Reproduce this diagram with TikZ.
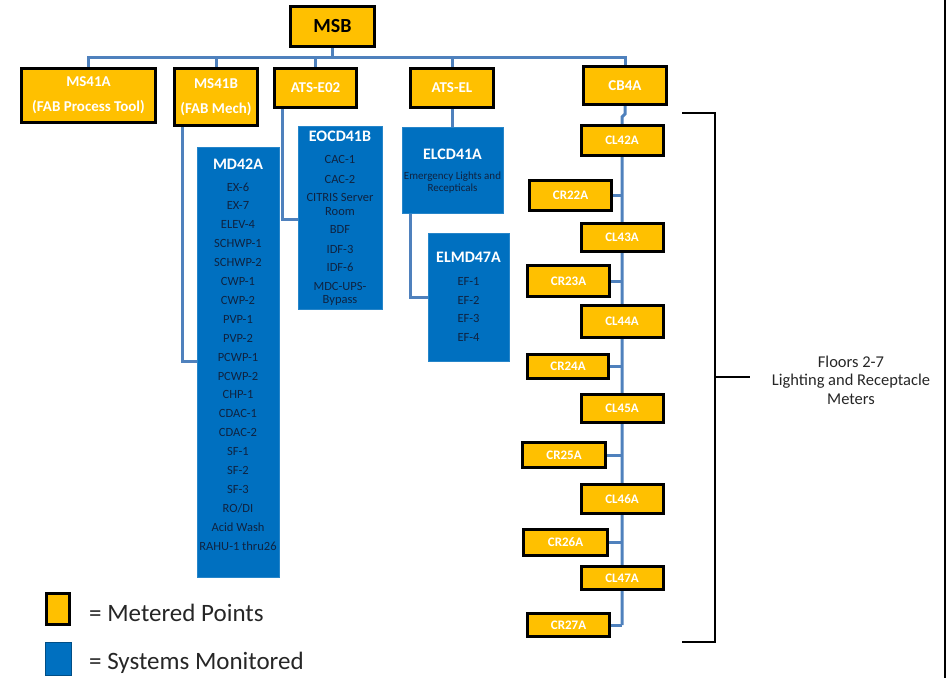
\documentclass[tikz,border=0pt]{standalone}
\usepackage{fontspec}
\setmainfont{Carlito}
\usetikzlibrary{backgrounds}
\definecolor{myyellow}{HTML}{FFC000}
\definecolor{myblue}{HTML}{0070C0}
\definecolor{myline}{HTML}{4F81BD}
\definecolor{mynavy}{HTML}{0F2341}
\tikzset{
  ybox/.style={rectangle, fill=myyellow, draw=black, line width=3pt, inner sep=0pt, text=white, font=\bfseries\fontsize{15}{25}\selectfont, align=center},
  smallybox/.style={ybox, font=\bfseries\fontsize{13}{15}\selectfont, minimum width=82, minimum height=28},
  bbox/.style={rectangle, fill=myblue, draw=myblue!85!white, line width=0.6pt, inner sep=0pt},
  btitle/.style={inner sep=0pt, text=white, font=\bfseries\fontsize{16}{18}\selectfont},
  bitem/.style={inner sep=0pt, text=mynavy, font=\fontsize{12.5}{13.5}\selectfont, align=center},
  conn/.style={draw=myline, line width=3pt},
  blk/.style={draw=black, line width=2.5pt}
}
\begin{document}
\begin{tikzpicture}[x=1pt,y=-1pt]
\useasboundingbox (0,0) rectangle (948,678);
% top level
\node[ybox, text=black, font=\bfseries\fontsize{20}{24}\selectfont, minimum width=84, minimum height=40] (msb) at (332.5,26.5) {MSB};
\node[ybox, minimum width=134, minimum height=54] (ms41a) at (88.5,95.5) {MS41A\\(FAB Process Tool)};
\node[ybox, minimum width=83, minimum height=57] (ms41b) at (216,97) {MS41B\\(FAB Mech)};
\node[ybox, minimum width=82, minimum height=39] (atse02) at (315.5,88) {ATS-E02};
\node[ybox, minimum width=83, minimum height=39] (atsel) at (452,88) {ATS-EL};
\node[ybox, minimum width=83, minimum height=38] (cb4a) at (625,85.5) {CB4A};
% CB4A chain
\node[smallybox, minimum height=30] (cl42a) at (622,140.5) {CL42A};
\node[smallybox, minimum height=30] (cr22a) at (570.5,195.5) {CR22A};
\node[smallybox, minimum height=28] (cl43a) at (622,237.5) {CL43A};
\node[smallybox, minimum height=31] (cr23a) at (568.5,281) {CR23A};
\node[smallybox, minimum height=32] (cl44a) at (622,321.5) {CL44A};
\node[smallybox, minimum width=81, minimum height=24] (cr24a) at (568,366.5) {CR24A};
\node[smallybox, minimum height=28] (cl45a) at (622,408.5) {CL45A};
\node[smallybox, minimum width=83, minimum height=25] (cr25a) at (564,455) {CR25A};
\node[smallybox, minimum height=29] (cl46a) at (622,499) {CL46A};
\node[smallybox, minimum width=84, minimum height=26] (cr26a) at (565.5,542.5) {CR26A};
\node[smallybox, minimum height=23] (cl47a) at (622,578) {CL47A};
\node[smallybox, minimum height=23] (cr27a) at (568.5,625) {CR27A};
% blue boxes
\node[bbox, minimum width=82, minimum height=430] (md42a) at (238,362) {};
\node[btitle] (md42at) at (238,164) {MD42A};
\foreach \t [count=\i from 0] in {EX-6,EX-7,ELEV-4,SCHWP-1,SCHWP-2,CWP-1,CWP-2,PVP-1,PVP-2,PCWP-1,PCWP-2,CHP-1,CDAC-1,CDAC-2,SF-1,SF-2,SF-3,RO/DI,Acid Wash,RAHU-1 thru26}
  \node[bitem] (md-\i) at (238,{187+18.9*\i}) {\t};
\node[bbox, minimum width=84, minimum height=183] (eocd) at (340,217.5) {};
\node[btitle] (eocdt) at (340,136) {EOCD41B};
\node[bitem] (eo1) at (340,159) {CAC-1};
\node[bitem] (eo2) at (340,179) {CAC-2};
\node[bitem] (eo3) at (340,204.5) {CITRIS Server\\Room};
\node[bitem] (eo4) at (340,229) {BDF};
\node[bitem] (eo5) at (340,249) {IDF-3};
\node[bitem] (eo6) at (340,267) {IDF-6};
\node[bitem] (eo7) at (340,294) {MDC-UPS-\\Bypass};
\node[bbox, minimum width=101, minimum height=86] (elcd) at (452.5,170) {};
\node[btitle] (elcdt) at (452.5,154) {ELCD41A};
\node[bitem, font=\fontsize{11}{12}\selectfont] (elcds) at (452.5,183) {Emergency Lights and\\Recepticals};
\node[bbox, minimum width=81, minimum height=128] (elmd) at (468.5,297) {};
\node[btitle] (elmdt) at (468.5,257) {ELMD47A};
\node[bitem] (ef1) at (468.5,281) {EF-1};
\node[bitem] (ef2) at (468.5,300) {EF-2};
\node[bitem] (ef3) at (468.5,318) {EF-3};
\node[bitem] (ef4) at (468.5,337) {EF-4};
% connectors
\coordinate (bus) at (332.5,57);
\coordinate (k1) at (197,361);
\coordinate (k2) at (298,219);
\coordinate (k3) at (428,297);
\coordinate (sp0) at (622,117);
\coordinate (sp1) at (622,625);
\begin{scope}[on background layer]
\draw[conn] (msb.south) -- (bus);
\foreach \n in {ms41a,ms41b,atse02,atsel,cb4a}
  \draw[conn] (\n.north) |- (bus);
\draw[conn] ([xshift=9pt]ms41b.south west) |- (k1);
\draw[conn] ([xshift=9pt]atse02.south west) |- (k2);
\draw[conn] (atsel.south) -- (elcd.north -| atsel.south);
\draw[conn] ([xshift=9pt]elcd.south west) |- (k3);
\draw[conn] (cb4a.south) -- ++(0,8) -- (sp0) -- (sp1);
\foreach \n in {cr22a,cr23a,cr24a,cr25a,cr26a,cr27a}
  \draw[conn] (\n.east) -- (\n.east -| sp1);
\end{scope}
% bracket
\coordinate (br1) at (682,113);
\coordinate (br2) at (715,113);
\coordinate (br3) at (715,642);
\coordinate (br4) at (682,642);
\coordinate (brm) at (715,377);
\coordinate (brt) at (750,377);
\draw[blk] (br1) -- (br2) -- (br3) -- (br4);
\draw[blk] (brm) -- (brt);
\node[align=center, inner sep=0pt, text=black!85, font=\fontsize{16.5}{18.5}\selectfont] (floors) at (851,380) {Floors 2-7\\Lighting and Receptacle\\Meters};
% right border
\coordinate (rb1) at (945,0);
\coordinate (rb2) at (945,678);
\draw[blk] (rb1) -- (rb2);
% legend
\node[ybox, minimum width=23, minimum height=31] (legy) at (58,609) {};
\node[bbox, draw=myblue!70!black, minimum width=26, minimum height=33] (legb) at (58,658.5) {};
\node[anchor=west, inner sep=0pt, text=black!85, font=\fontsize{25}{28}\selectfont] (legyt) at (89,613) {= Metered Points};
\node[anchor=west, inner sep=0pt, text=black!85, font=\fontsize{25}{28}\selectfont] (legbt) at (89,663) {= Systems Monitored};
\end{tikzpicture}
\end{document}
